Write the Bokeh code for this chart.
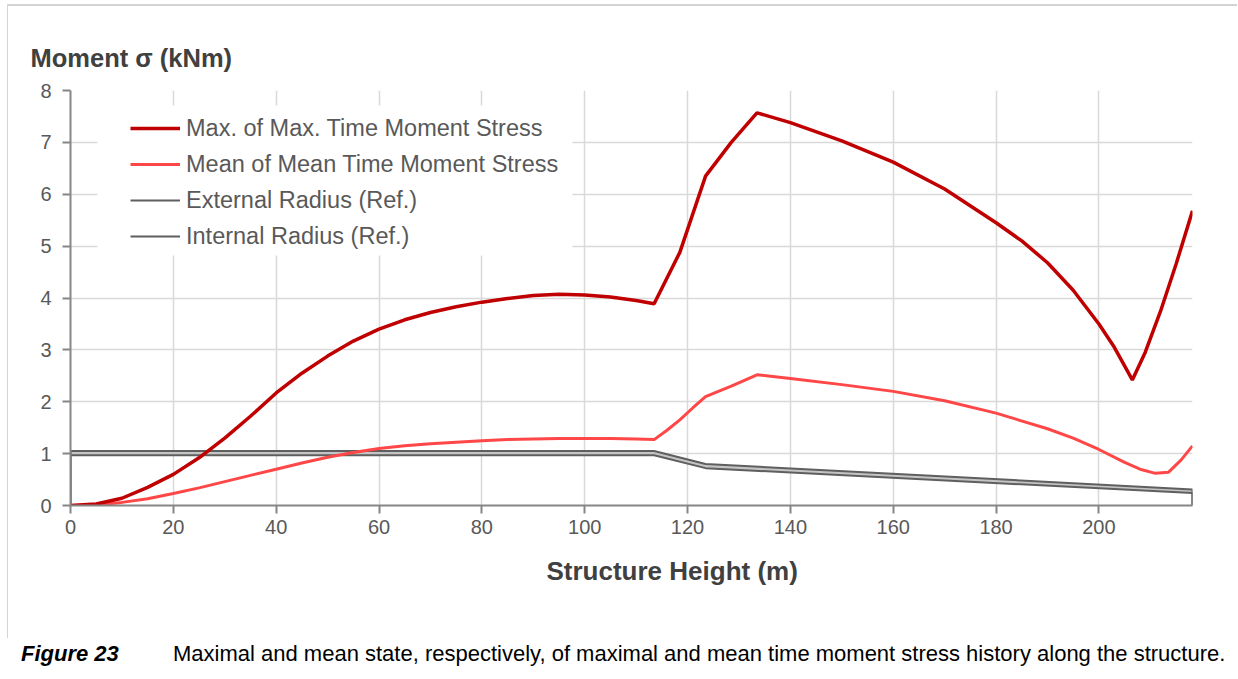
from bokeh.plotting import figure
from bokeh.layouts import column
from bokeh.models import (Range1d, FixedTicker, Legend, LegendItem, BoxAnnotation, Title, Div)
from bokeh.embed import file_html
from bokeh.resources import INLINE

# Height along the structure (m) and moment stress values (kNm)
max_height = [0, 5, 10, 15, 20, 25, 30, 35, 40, 45, 50, 55, 60, 65, 70, 75, 80, 85, 90, 95,
              100, 105, 110, 113.5, 118.5, 123.5, 128.5, 133.5, 140, 150, 160, 170, 180, 185,
              190, 195, 200, 203, 206.5, 209, 212, 215, 218.2]
max_stress = [0, 0.03, 0.14, 0.35, 0.6, 0.92, 1.3, 1.72, 2.17, 2.55, 2.88, 3.17, 3.4, 3.58,
              3.72, 3.83, 3.92, 3.99, 4.05, 4.07, 4.06, 4.02, 3.95, 3.89, 4.88, 6.35, 7.0, 7.57,
              7.38, 7.03, 6.62, 6.1, 5.45, 5.1, 4.68, 4.15, 3.5, 3.05, 2.42, 2.95, 3.75, 4.65, 5.68]

mean_height = [0, 5, 10, 15, 20, 25, 30, 35, 40, 45, 50, 55, 60, 65, 70, 75, 80, 85, 90, 95,
               100, 105, 110, 113.5, 116, 118.5, 121, 123.5, 128.5, 133.5, 140, 150, 160, 170,
               180, 190, 195, 200, 205, 208, 211, 213.5, 216, 218.2]
mean_stress = [0, 0.01, 0.06, 0.13, 0.23, 0.34, 0.46, 0.58, 0.7, 0.82, 0.93, 1.02, 1.1, 1.15,
               1.19, 1.22, 1.25, 1.27, 1.28, 1.29, 1.29, 1.29, 1.28, 1.27, 1.45, 1.65, 1.88,
               2.1, 2.3, 2.52, 2.45, 2.33, 2.2, 2.02, 1.78, 1.48, 1.3, 1.08, 0.83, 0.7, 0.62,
               0.64, 0.88, 1.15]

radius_height = [0, 113.5, 123.5, 218.2]
external_radius = [1.05, 1.05, 0.80, 0.31]
internal_radius = [0.97, 0.97, 0.72, 0.24]

x_ticks = [0, 20, 40, 60, 80, 100, 120, 140, 160, 180, 200]
y_ticks = [0, 1, 2, 3, 4, 5, 6, 7, 8]

series_labels = ["Max. of Max. Time Moment Stress", "Mean of Mean Time Moment Stress",
                 "External Radius (Ref.)", "Internal Radius (Ref.)"]
y_title = "Moment \u03c3 (kNm)"
x_title = "Structure Height (m)"
caption_tag = "Figure 23"
caption_text = ("Maximal and mean state, respectively, of maximal and mean time moment "
                "stress history along the structure.")

FONT = "Liberation Sans"
TEXT = "#595959"

p = figure(width=1230, height=634, output_backend="svg", toolbar_location=None,
           x_range=Range1d(0, radius_height[-1]), y_range=Range1d(0, 8),
           min_border_left=62, min_border_right=46, min_border_top=84, min_border_bottom=135)
p.margin = (4, 0, 0, 7)
p.styles = {"border-top": "2px solid #d4d4d4", "border-left": "1px solid #d4d4d4"}
p.outline_line_color = None
p.background_fill_color = "white"
p.border_fill_color = "white"

for ax, ticks in ((p.xaxis[0], x_ticks), (p.yaxis[0], y_ticks)):
    ax.ticker = FixedTicker(ticks=ticks)
    ax.axis_line_color = "#868686"
    ax.axis_line_width = 2
    ax.major_tick_line_color = "#868686"
    ax.major_tick_line_width = 2
    ax.major_tick_out = 8
    ax.major_tick_in = 0
    ax.minor_tick_line_color = None
    ax.major_label_text_font = FONT
    ax.major_label_text_font_size = "20px"
    ax.major_label_text_color = TEXT
p.xaxis.major_label_standoff = 6
p.yaxis.major_label_standoff = 11

p.xgrid.ticker = FixedTicker(ticks=x_ticks[1:])
p.ygrid.ticker = FixedTicker(ticks=y_ticks[1:])
p.grid.grid_line_color = "#d9d9d9"
p.grid.grid_line_width = 1.5

# structure outline: band between the two radii, then the two radius lines
p.varea(x=radius_height, y1=internal_radius, y2=external_radius, fill_color="#c4c4c4")
ext_x = [radius_height[0]] + radius_height + [radius_height[-1]]
ext_r = p.line(ext_x, [0] + external_radius + [0], line_color="#5f5f5f", line_width=2)
int_r = p.line(ext_x, [0] + internal_radius + [0], line_color="#5f5f5f", line_width=2)

mean_r = p.line(mean_height, mean_stress, line_color="#FF4747", line_width=3)
max_r = p.line(max_height, max_stress, line_color="#C00000", line_width=3.5)

# white backdrop behind the legend
p.add_layout(BoxAnnotation(left=27, right=502, top=400, bottom=250,
                           left_units="screen", right_units="screen",
                           top_units="screen", bottom_units="screen",
                           fill_color="white", fill_alpha=1, line_color=None))

legend = Legend(items=[LegendItem(label=series_labels[0], renderers=[max_r]),
                       LegendItem(label=series_labels[1], renderers=[mean_r]),
                       LegendItem(label=series_labels[2], renderers=[ext_r]),
                       LegendItem(label=series_labels[3], renderers=[int_r])],
                location=(60, 251), padding=0, margin=0, spacing=0,
                glyph_width=50, glyph_height=36, label_height=36, label_standoff=6,
                label_text_font=FONT, label_text_font_size="23.5px", label_text_color=TEXT,
                background_fill_alpha=0, border_line_alpha=0)
p.add_layout(legend)

# axis titles
p.add_layout(Title(text=y_title, align="left", offset=-40, standoff=37,
                   text_font=FONT, text_font_size="25.5px", text_font_style="bold",
                   text_color="#404040"), "above")
p.add_layout(Title(text=x_title, align="left", offset=476, standoff=35,
                   text_font=FONT, text_font_size="26px", text_font_style="bold",
                   text_color="#404040"), "below")

# caption line below the chart
caption_html = (
    "<div style=\"font-family:'Liberation Sans',Arial,sans-serif;font-size:22px;color:#000;"
    "white-space:nowrap;padding-left:21px;line-height:32px;\">"
    "<span style=\"display:inline-block;width:152px;font-weight:bold;font-style:italic;\">"
    + caption_tag + "</span>" + caption_text + "</div>"
)
cap = Div(text=caption_html, width=1238, height=39, margin=(0, 0, 0, 0))

layout = column(p, cap, spacing=0)
open("out.html", "w").write(file_html(layout, INLINE))
